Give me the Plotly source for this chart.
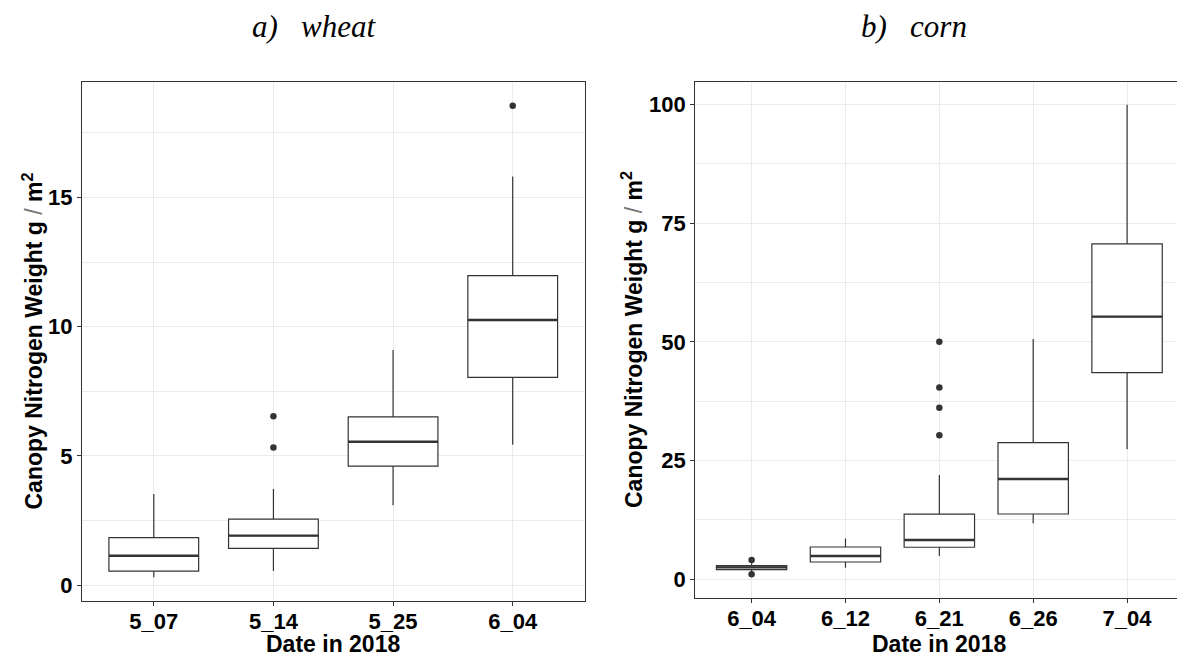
import plotly.graph_objects as go

# ---- wheat: canopy nitrogen weight (g/m^2) by sampling date ----
wheat_dates = ["5_07", "5_14", "5_25", "6_04"]
wheat_lower = [0.31, 0.55, 3.09, 5.43]
wheat_q1 = [0.55, 1.43, 4.61, 8.04]
wheat_median = [1.14, 1.92, 5.55, 10.26]
wheat_q3 = [1.84, 2.56, 6.51, 11.97]
wheat_upper = [3.53, 3.72, 9.10, 15.81]
wheat_out_idx = [1, 1, 3]
wheat_out_val = [6.54, 5.33, 18.54]

# ---- corn: canopy nitrogen weight (g/m^2) by sampling date ----
corn_dates = ["6_04", "6_12", "6_21", "6_26", "7_04"]
corn_lower = [1.47, 2.44, 4.9, 11.8, 27.4]
corn_q1 = [2.02, 3.64, 6.74, 13.75, 43.5]
corn_median = [2.5, 4.9, 8.27, 21.1, 55.3]
corn_q3 = [2.86, 6.8, 13.7, 28.76, 70.6]
corn_upper = [3.4, 8.6, 21.96, 50.6, 99.9]
corn_out_idx = [0, 0, 2, 2, 2, 2]
corn_out_val = [4.06, 1.05, 50.0, 40.4, 36.1, 30.3]

W, H = 1177, 653
BOX_W = 0.75
EDGE = "#333333"
GRID = "#EBEBEB"
SANS = "Liberation Sans, Arial, sans-serif"
SERIF = "Liberation Serif, Times New Roman, serif"

fig = go.Figure()


def add_panel(xa, ya, lower, q1, med, q3, upper, out_idx, out_val):
    pos = list(range(len(med)))
    fig.add_trace(go.Box(
        x=pos, q1=q1, median=med, q3=q3,
        lowerfence=lower, upperfence=upper,
        width=BOX_W, whiskerwidth=0, boxpoints=False,
        fillcolor="white", line=dict(color=EDGE, width=1.2),
        xaxis=xa, yaxis=ya, showlegend=False, hoverinfo="skip",
    ))
    # thicker median bars, as in a ggplot boxplot
    mx, my = [], []
    for i, m in zip(pos, med):
        mx += [i - BOX_W / 2, i + BOX_W / 2, None]
        my += [m, m, None]
    fig.add_trace(go.Scatter(
        x=mx, y=my, mode="lines", line=dict(color=EDGE, width=2.4),
        xaxis=xa, yaxis=ya, showlegend=False, hoverinfo="skip",
    ))
    fig.add_trace(go.Scatter(
        x=out_idx, y=out_val, mode="markers",
        marker=dict(color=EDGE, size=6.5),
        xaxis=xa, yaxis=ya, showlegend=False, hoverinfo="skip",
    ))


add_panel("x", "y", wheat_lower, wheat_q1, wheat_median, wheat_q3,
          wheat_upper, wheat_out_idx, wheat_out_val)
add_panel("x2", "y2", corn_lower, corn_q1, corn_median, corn_q3,
          corn_upper, corn_out_idx, corn_out_val)

tickfont = dict(family=SANS, size=22, color="black", weight="bold")


def xaxis_cfg(domain, labels, rng, mirror):
    return dict(
        domain=domain, range=rng, tickmode="array",
        tickvals=list(range(len(labels))), ticktext=labels,
        showline=True, linecolor=EDGE, linewidth=1.2, mirror=mirror,
        ticks="outside", ticklen=4, tickcolor=EDGE, tickwidth=1,
        ticklabelstandoff=-4,
        showgrid=True, gridcolor=GRID, gridwidth=1,
        zeroline=False, tickfont=tickfont, fixedrange=True,
    )


def yaxis_cfg(domain, anchor, rng, dtick, mirror):
    return dict(
        domain=domain, anchor=anchor, range=rng, dtick=dtick, tick0=0,
        showline=True, linecolor=EDGE, linewidth=1.2, mirror=mirror,
        ticks="outside", ticklen=4, tickcolor=EDGE, tickwidth=1,
        showgrid=True, gridcolor=GRID, gridwidth=1,
        minor=dict(dtick=dtick / 2, tick0=dtick / 2, showgrid=True,
                   gridcolor=GRID, gridwidth=1, ticks=""),
        zeroline=False, tickfont=tickfont, fixedrange=True,
    )


y_dom_l = [1 - 601.3 / H, 1 - 82 / H]
y_dom_r = [1 - 598 / H, 1 - 82 / H]

fig.update_layout(
    width=W, height=H,
    margin=dict(l=0, r=0, t=0, b=0),
    paper_bgcolor="white", plot_bgcolor="white",
    xaxis=xaxis_cfg([82 / W, 584.5 / W], wheat_dates, [-0.6, 3.6], True),
    yaxis=yaxis_cfg(y_dom_l, "x", [-0.62, 19.46], 5, True),
    xaxis2=dict(xaxis_cfg([695.3 / W, 1.0], corn_dates, [-0.6, 4.532], True),
                anchor="y2"),
    yaxis2=yaxis_cfg(y_dom_r, "x2", [-3.94, 104.7], 25, False),
)

ytitle = ("Canopy Nitrogen Weight g "
          "<span style='font-weight:normal;color:#777777'>/</span>"
          " m<sup>2</sup>")
title_font = dict(family=SANS, size=23, color="black", weight="bold")
panel_font = dict(family=SERIF, size=31, color="black")
gap = "\u00a0\u00a0\u00a0"

annotations = [
    dict(text=f"<i>a){gap}wheat</i>", x=314 / W, y=1 - 27 / H, font=panel_font),
    dict(text=f"<i>b){gap}corn</i>", x=914 / W, y=1 - 27 / H, font=panel_font),
    dict(text="Date in 2018", x=333 / W, y=1 - 644 / H, font=title_font),
    dict(text="Date in 2018", x=939 / W, y=1 - 644 / H, font=title_font),
    dict(text=ytitle, x=32 / W, y=1 - 341.5 / H, textangle=-90, font=title_font),
    dict(text=ytitle, x=632 / W, y=1 - 340 / H, textangle=-90, font=title_font),
]
for a in annotations:
    a.update(xref="paper", yref="paper", showarrow=False,
             xanchor="center", yanchor="middle")
fig.update_layout(annotations=annotations)

fig.write_html("out.html", config=dict(displayModeBar=False))
